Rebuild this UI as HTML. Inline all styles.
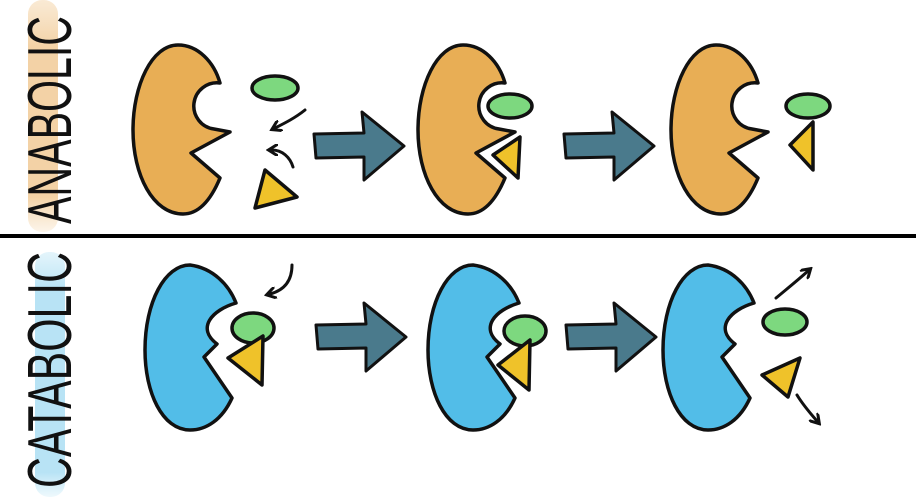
<!DOCTYPE html>
<html><head><meta charset="utf-8"><style>html,body{margin:0;padding:0;background:#fff}svg{display:block}</style></head>
<body>
<svg width="916" height="499" viewBox="0 0 916 499" xmlns="http://www.w3.org/2000/svg">
<defs>
<linearGradient id="og" x1="0" y1="0" x2="0" y2="1"><stop offset="0" stop-color="#f6dcb8" stop-opacity="0.6"/><stop offset="0.2" stop-color="#f3d2a6"/><stop offset="0.85" stop-color="#f3d2a6"/><stop offset="1" stop-color="#f6dcb8" stop-opacity="0.3"/></linearGradient>
<linearGradient id="bg" x1="0" y1="0" x2="0" y2="1"><stop offset="0" stop-color="#c8eaf7" stop-opacity="0.5"/><stop offset="0.15" stop-color="#b8e3f5"/><stop offset="0.9" stop-color="#b8e3f5"/><stop offset="1" stop-color="#c8eaf7" stop-opacity="0.3"/></linearGradient>
<path id="ana" d="M178,45 C198,45 214,62 220,83 A20,20 0 0 0 214,129 L230,132 L191,153 L220,178 C210,202 198,214 183,214 C153,214 133,175 133,130 C133,85 152,45 178,45 Z"/>
<path id="cat" d="M190,265 C213,268 229,285 236,303 C212,310 196,328 217,344 L204,357 L232,398 C222,420 206,430 190,430 C162,430 145,392 145,350 C145,302 165,265 190,265 Z"/>
<g id="arr"><path d="M0,22 L50,21 L48,0 L90,34 L50,68 L50,45 L2,46 Z" fill="#4a7a8c" stroke="#111" stroke-width="3" stroke-linejoin="round"/></g>
<marker id="ah" viewBox="0 0 10 10" refX="5" refY="5" markerWidth="4" markerHeight="4" orient="auto"><path d="M0,0 L8,5 L0,10" fill="none" stroke="#111" stroke-width="2.5"/></marker>
</defs>

<rect x="28" y="0" width="30" height="232" rx="14" fill="url(#og)"/>
<rect x="35" y="252" width="30" height="245" rx="14" fill="url(#bg)"/>
<text transform="translate(71,224) rotate(-90)" font-family="Liberation Sans, sans-serif" font-size="62" textLength="208" lengthAdjust="spacingAndGlyphs" fill="#111">ANABOLIC</text>
<text transform="translate(71,488) rotate(-90)" font-family="Liberation Sans, sans-serif" font-size="62" textLength="236" lengthAdjust="spacingAndGlyphs" fill="#111">CATABOLIC</text>

<rect x="0" y="234" width="916" height="4" fill="#000"/>

<g fill="#e8ae55" stroke="#111" stroke-width="3.5" stroke-linejoin="round">
<use href="#ana"/>
<use href="#ana" transform="translate(285,0)"/>
<use href="#ana" transform="translate(538,0)"/>
</g>
<g fill="#52bde8" stroke="#111" stroke-width="3.5" stroke-linejoin="round">
<use href="#cat"/>
<use href="#cat" transform="translate(283,0)"/>
<use href="#cat" transform="translate(518,0)"/>
</g>

<use href="#arr" transform="translate(314,112)"/>
<use href="#arr" transform="translate(564,112)"/>
<use href="#arr" transform="translate(316,303)"/>
<use href="#arr" transform="translate(566,303)"/>

<g stroke="#111" stroke-width="3.5" stroke-linejoin="round">
<ellipse cx="275" cy="88" rx="23" ry="12" fill="#7dd87f"/>
<path d="M265,170 L297,197 L255,208 Z" fill="#efc22a"/>
<ellipse cx="510" cy="106" rx="22" ry="12" fill="#7dd87f"/>
<path d="M520,137 L518,178 L493,155 Z" fill="#efc22a"/>
<ellipse cx="808" cy="106" rx="22" ry="12" fill="#7dd87f"/>
<path d="M813,122 L813,170 L790,145 Z" fill="#efc22a"/>
<ellipse cx="253" cy="328" rx="21" ry="15" fill="#7dd87f"/>
<path d="M263,336 L262,385 L228,358 Z" fill="#efc22a"/>
<ellipse cx="525" cy="331" rx="21" ry="15" fill="#7dd87f"/>
<path d="M530,340 L529,390 L498,365 Z" fill="#efc22a"/>
<ellipse cx="785" cy="322" rx="22" ry="13" fill="#7dd87f"/>
<path d="M800,358 L788,397 L762,375 Z" fill="#efc22a"/>
</g>

<g fill="none" stroke="#111" stroke-width="3" stroke-linecap="round" marker-end="url(#ah)">
<path d="M305,110 C295,118 285,123 275,128"/>
<path d="M293,167 C290,157 282,150 272,150"/>
<path d="M292,265 C292,280 285,290 270,294"/>
<path d="M776,298 C788,288 798,280 808,271"/>
<path d="M797,395 C803,405 810,413 817,421"/>
</g>
</svg>
</body></html>
